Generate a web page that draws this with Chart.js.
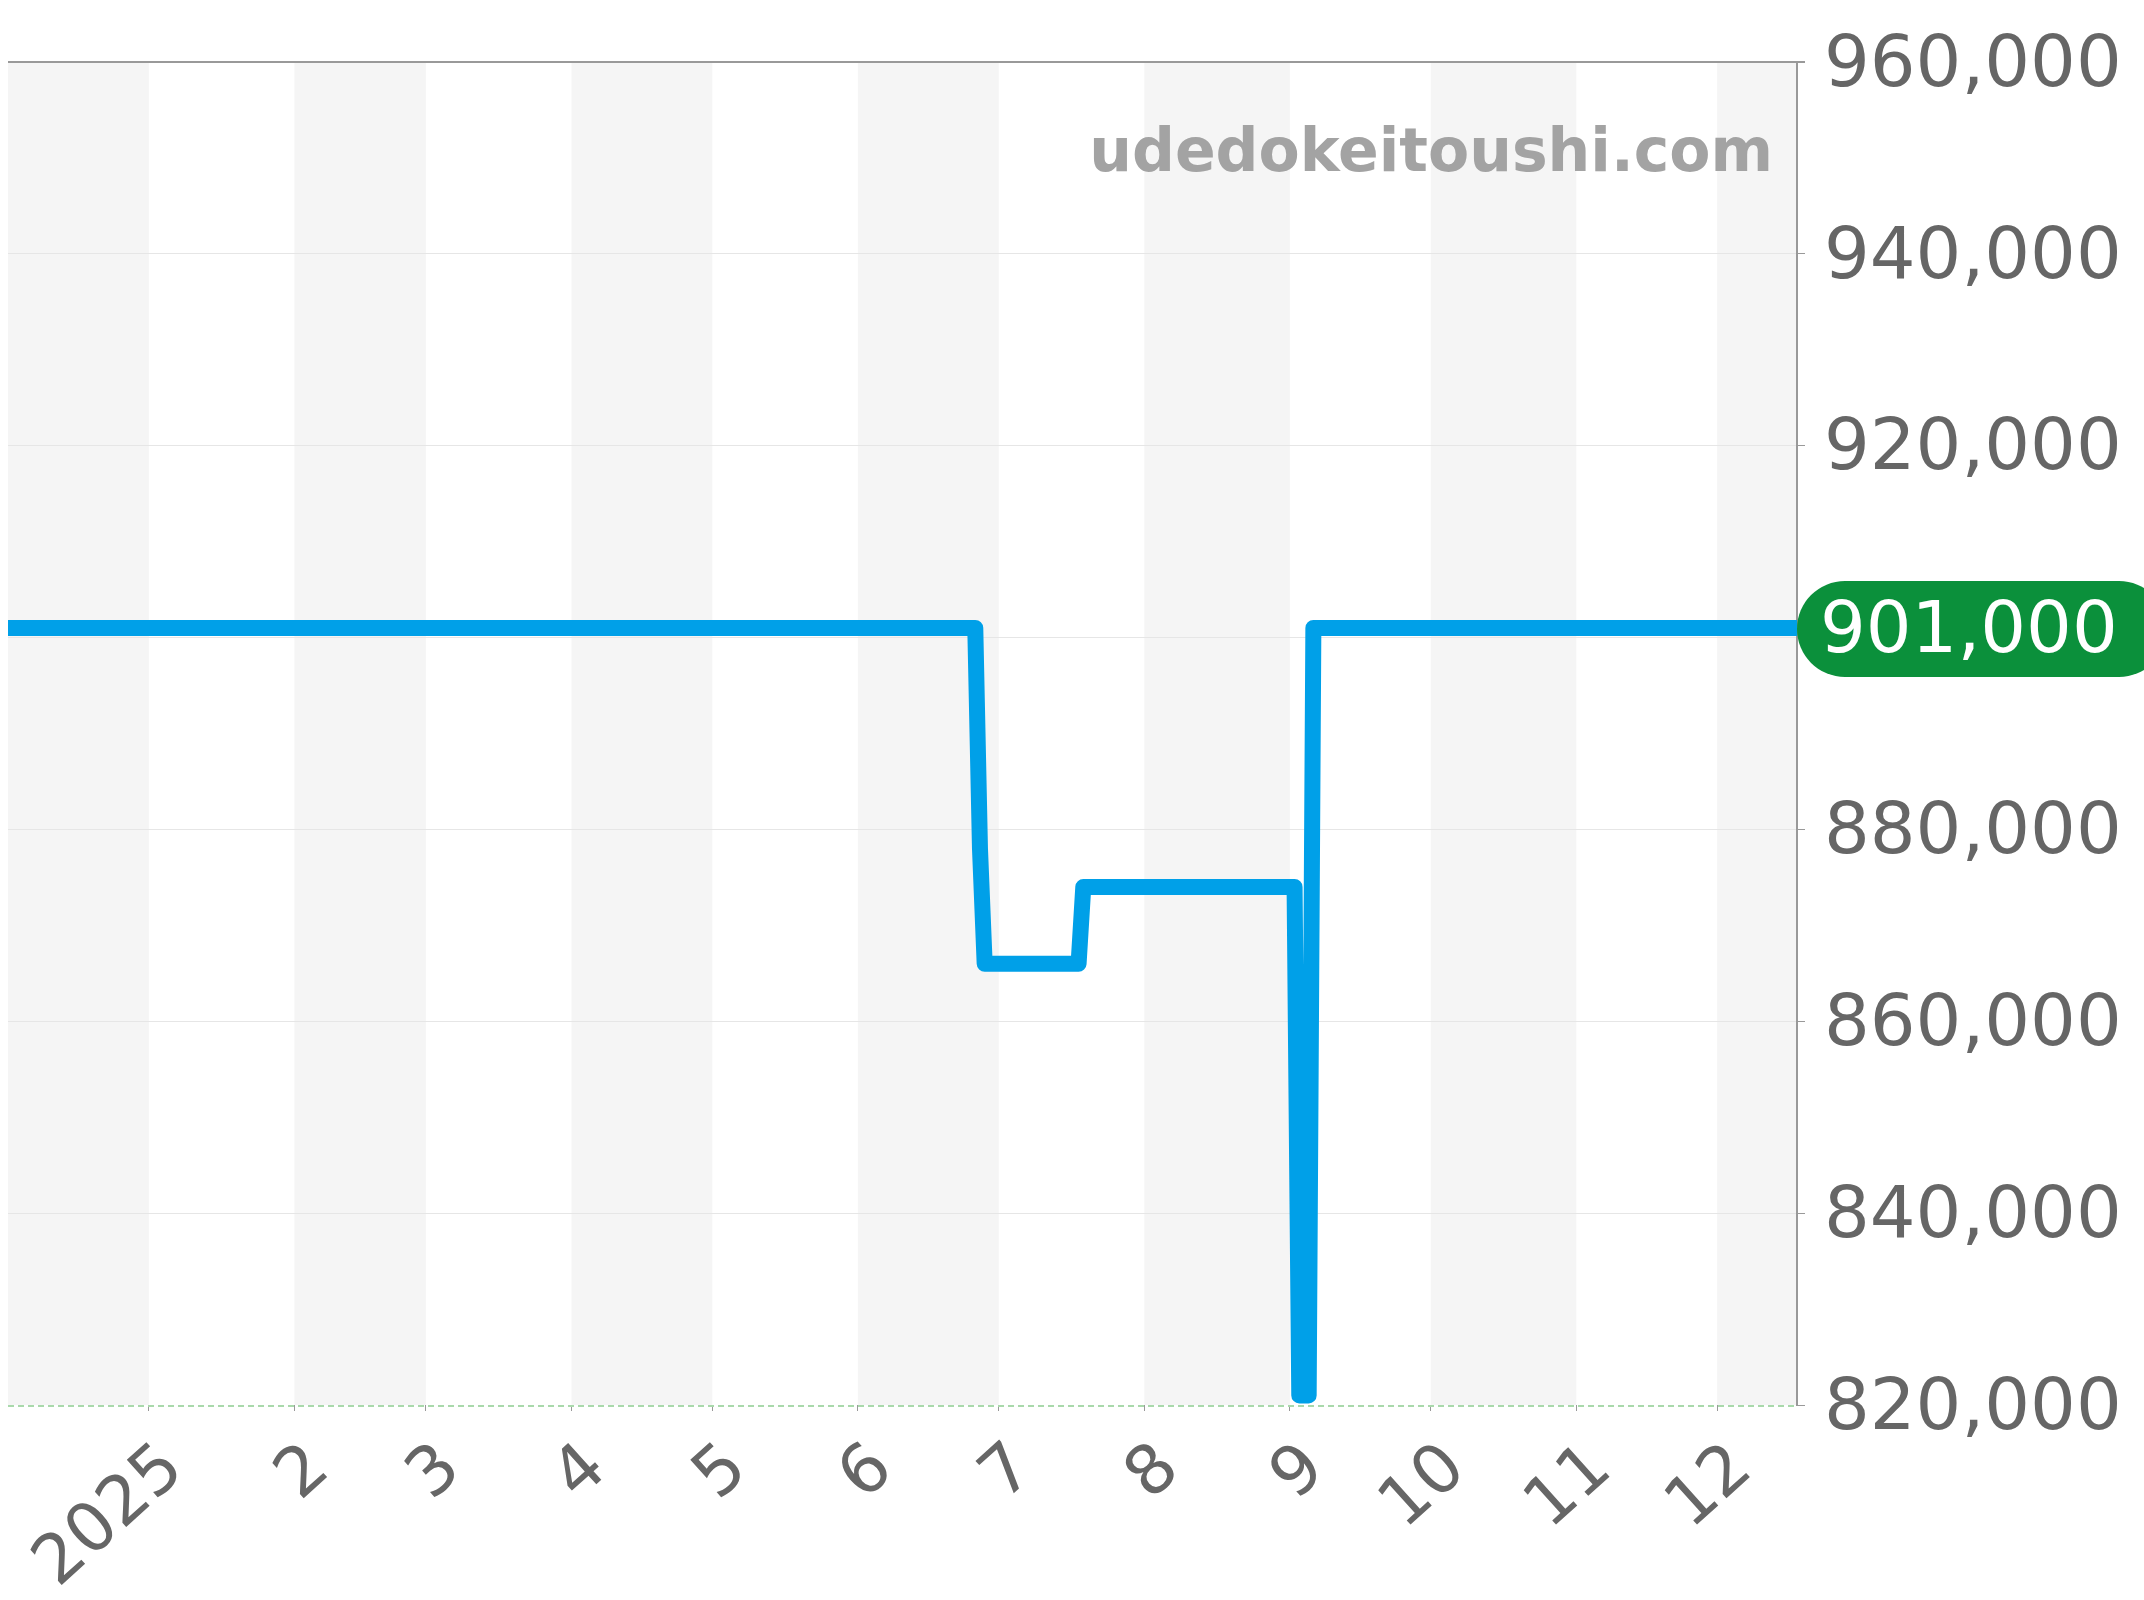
<!DOCTYPE html>
<html><head><meta charset="utf-8">
<script src="https://cdn.jsdelivr.net/npm/chart.js@4.4.1/dist/chart.umd.min.js"></script>
<style>html,body{margin:0;padding:0;background:#fff}#wrap{width:2144px;height:1600px}</style>
</head><body><div id="wrap"><canvas id="c" width="2144" height="1600"></canvas></div>
<script>
// ---- data ----
const dates  = ['2024-12-02','2025-06-26','2025-06-27','2025-06-28','2025-07-18','2025-07-19','2025-09-02','2025-09-03','2025-09-05','2025-09-06','2025-12-18'];
const prices = [901000, 901000, 878000, 866000, 866000, 874000, 874000, 821000, 821000, 901000, 901000];
const tickDates  = ['2025-01-01','2025-02-01','2025-03-01','2025-04-01','2025-05-01','2025-06-01','2025-07-01','2025-08-01','2025-09-01','2025-10-01','2025-11-01','2025-12-01'];
const tickLabels = ['2025','2','3','4','5','6','7','8','9','10','11','12'];
const monthBounds = ['2024-12-01','2025-01-01','2025-02-01','2025-03-01','2025-04-01','2025-05-01','2025-06-01','2025-07-01','2025-08-01','2025-09-01','2025-10-01','2025-11-01','2025-12-01','2026-01-01'];
const Y_MIN = 820000, Y_MAX = 960000, Y_STEP = 20000;
const watermark = 'udedokeitoushi.com';

function dayNum(s){ const p = s.split('-').map(Number); return Date.UTC(p[0], p[1]-1, p[2]) / 86400000; }
const fmt = v => Number(v).toLocaleString('en-US');
const FONT = 'DejaVu Sans';

const stripes = {
  id: 'stripes',
  beforeDraw(chart){
    const {ctx, chartArea: ca, scales: {x}} = chart;
    ctx.save();
    ctx.beginPath(); ctx.rect(ca.left, ca.top, ca.right - ca.left, ca.bottom - ca.top); ctx.clip();
    for (let i = 0; i < monthBounds.length - 1; i++) {
      if (i % 2 !== 0) continue;
      const a = x.getPixelForValue(dayNum(monthBounds[i]));
      const b = x.getPixelForValue(dayNum(monthBounds[i+1]));
      ctx.fillStyle = '#f5f5f5';
      ctx.fillRect(a, ca.top, b - a, ca.bottom - ca.top);
    }
    ctx.restore();
  },
  beforeDatasetsDraw(chart){
    const {ctx, chartArea: ca} = chart;
    ctx.save();
    ctx.strokeStyle = '#a9d9ab';
    ctx.lineWidth = 2;
    ctx.setLineDash([6, 4]);
    ctx.beginPath(); ctx.moveTo(ca.left, ca.bottom + 1); ctx.lineTo(ca.right, ca.bottom + 1); ctx.stroke();
    ctx.setLineDash([]);
    ctx.font = 'bold 60px "' + FONT + '"';
    ctx.fillStyle = '#a3a3a3';
    ctx.textAlign = 'right';
    ctx.textBaseline = 'alphabetic';
    ctx.fillText(watermark, ca.right - 24, ca.top + 109);
    ctx.restore();
  },
  afterDraw(chart){
    const {ctx, chartArea: ca, scales: {y}} = chart;
    const last = prices[prices.length - 1];
    const py = y.getPixelForValue(last) + 1;
    const h = 96, r = 48, x0 = ca.right, x1 = ca.right + 370;
    ctx.save();
    ctx.fillStyle = '#0b903b';
    ctx.beginPath();
    ctx.moveTo(x0 + r, py - h/2);
    ctx.lineTo(x1 - r, py - h/2);
    ctx.arc(x1 - r, py, r, -Math.PI/2, Math.PI/2);
    ctx.lineTo(x0 + r, py + h/2);
    ctx.arc(x0 + r, py, r, Math.PI/2, Math.PI*1.5);
    ctx.closePath();
    ctx.fill();
    ctx.fillStyle = '#ffffff';
    ctx.font = '72px "' + FONT + '"';
    ctx.textAlign = 'left';
    ctx.textBaseline = 'middle';
    ctx.fillText(fmt(last), x0 + 23, py + 4);
    ctx.restore();
  }
};

new Chart(document.getElementById('c'), {
  type: 'line',
  data: {
    datasets: [{
      data: dates.map((d, i) => ({x: dayNum(d), y: prices[i]})),
      borderColor: '#00a0e8',
      borderWidth: 16,
      borderJoinStyle: 'round',
      borderCapStyle: 'butt',
      pointRadius: 0,
      pointHoverRadius: 0,
      tension: 0,
      fill: false,
      clip: 0
    }]
  },
  options: {
    responsive: false,
    animation: false,
    devicePixelRatio: 1,
    layout: {padding: {left: 8, top: 62, right: 0, bottom: 0}},
    plugins: {legend: {display: false}, tooltip: {enabled: false}},
    scales: {
      x: {
        type: 'linear',
        min: dayNum(dates[0]),
        max: dayNum(dates[dates.length - 1]),
        afterBuildTicks: s => { s.ticks = tickDates.map(d => ({value: dayNum(d)})); },
        afterFit: s => { s.height = 195; s.paddingLeft = 0; s.paddingRight = 0; },
        grid: {display: true, drawOnChartArea: false, drawTicks: true, tickLength: 6, color: '#999', tickColor: '#999'},
        border: {display: false},
        ticks: {
          autoSkip: false, minRotation: 42, maxRotation: 42, padding: 18, labelOffset: 26,
          color: '#666', font: {size: 68, family: FONT},
          callback: (v, i) => tickLabels[i]
        }
      },
      y: {
        position: 'right',
        min: Y_MIN, max: Y_MAX,
        afterFit: s => { s.width = 347; s.paddingTop = 0; s.paddingBottom = 0; },
        grid: {
          color: c => c.tick && c.tick.value === Y_MAX ? '#999' : (c.tick && c.tick.value === Y_MIN ? 'rgba(0,0,0,0)' : '#e6e6e6'),
          lineWidth: c => c.tick && c.tick.value === Y_MAX ? 2 : 1,
          tickColor: '#999', tickLength: 8, drawTicks: true
        },
        border: {display: true, color: '#999', width: 2},
        ticks: {
          stepSize: Y_STEP, autoSkip: false, padding: 19, labelOffset: 5,
          color: '#666', font: {size: 72, family: FONT},
          callback: v => v === prices[prices.length - 1] - 1000 ? '' : fmt(v)
        }
      }
    }
  },
  plugins: [stripes]
});
</script>
</body></html>
